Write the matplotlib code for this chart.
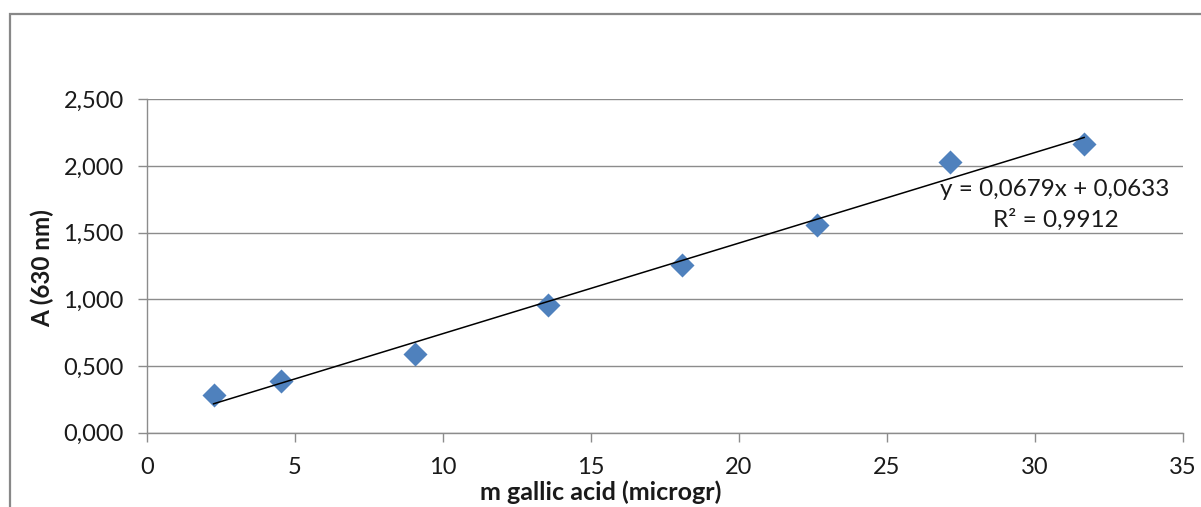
import matplotlib
matplotlib.use("Agg")
import matplotlib.pyplot as plt
from matplotlib.ticker import FuncFormatter, MultipleLocator
from matplotlib.patches import Rectangle
import numpy as np

# Data
mass = [2.26, 4.53, 9.05, 13.55, 18.08, 22.63, 27.14, 31.67]
absorb = [0.283, 0.388, 0.590, 0.955, 1.256, 1.556, 2.028, 2.165]
slope = 0.0679
intercept = 0.0633
eq_text = "y = 0,0679x + 0,0633"
r2_text = "R² = 0,9912"
xlabel = "m gallic acid (microgr)"
ylabel = "A (630 nm)"

plt.rcParams['font.family'] = ['Lato', 'DejaVu Sans']

W, H = 1201, 507
fig = plt.figure(figsize=(W/100, H/100), dpi=100)
ax = fig.add_axes([146.7/W, 1-432.7/H, (1182.7-146.7)/W, (432.7-99.3)/H])

grid_c = '#8c8c8c'
text_c = '#1a1a1a'

ax.scatter(mass, absorb, marker='D', s=150, color='#4F81BD', zorder=3, linewidths=0)
xs = np.array([mass[0], mass[-1]])
ax.plot(xs, slope*xs + intercept, color='black', lw=1.1, zorder=4)

ax.set_xlim(0, 35)
ax.set_ylim(0, 2.5)
ax.xaxis.set_major_locator(MultipleLocator(5))
ax.yaxis.set_major_locator(MultipleLocator(0.5))
ax.yaxis.set_major_formatter(FuncFormatter(lambda v, p: f"{v:.3f}".replace('.', ',')))
ax.grid(axis='y', color=grid_c, lw=1.0, zorder=0)
ax.set_axisbelow(True)
for s in ['top', 'right']:
    ax.spines[s].set_visible(False)
for s in ['left', 'bottom']:
    ax.spines[s].set_color(grid_c)
    ax.spines[s].set_linewidth(1.0)
ax.tick_params(axis='both', direction='out', length=6.5, width=1.0, color=grid_c,
               labelsize=17, labelcolor=text_c)
ax.tick_params(axis='y', pad=10)
ax.tick_params(axis='x', pad=11)

fig.text(1055/W, 1-190/H, eq_text, ha='center', va='center', fontsize=17.5, color=text_c)
fig.text(1056/W, 1-220/H, r2_text, ha='center', va='center', fontsize=17.5, color=text_c)

fig.text(601/W, 1-492/H, xlabel, ha='center', va='center', fontsize=18, fontweight='bold', color=text_c)
fig.text(42/W, 1-268/H, ylabel, ha='center', va='center', rotation=90, fontsize=17.5, fontweight='bold', color=text_c)

fig.patches.append(Rectangle((10/W, -0.05), 1.2, 1-14/H+0.05, transform=fig.transFigure,
                             fill=False, edgecolor='#888888', lw=1.6))

fig.savefig('out.png', dpi=100)
